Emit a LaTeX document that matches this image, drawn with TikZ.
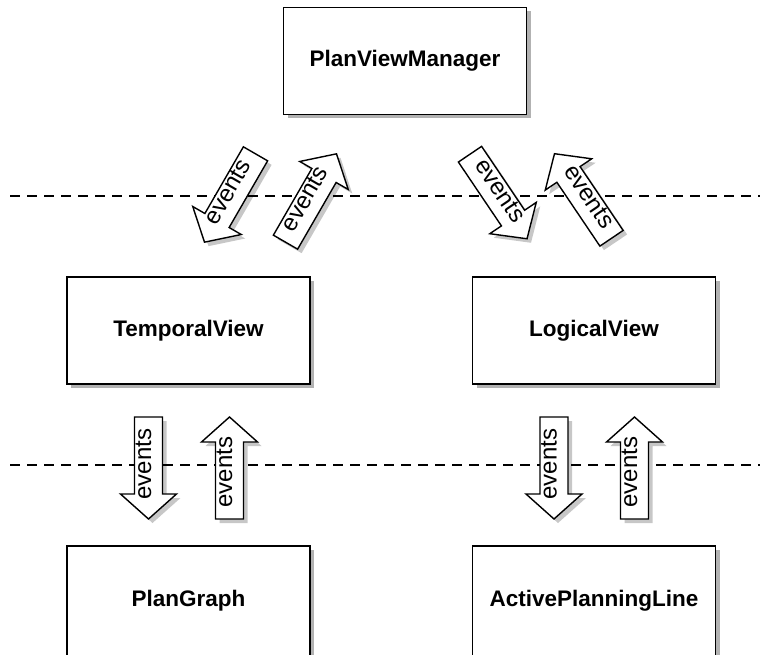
\documentclass[tikz,border=0pt]{standalone}
\usepackage{fontspec}
\setmainfont{Liberation Sans}
\usetikzlibrary{shadows}
\tikzset{
  box/.style={draw=black, line width=1.7pt, fill=white, minimum width=243pt, minimum height=107pt,
    inner sep=0pt, font=\fontsize{22.5}{27}\selectfont\bfseries,
    drop shadow={shadow xshift=4pt, shadow yshift=-4pt, opacity=0.3, fill=black}},
  evtext/.style={font=\fontsize{24}{28}\selectfont, inner sep=0pt, text height=1ex, text depth=0pt, transform shape},
  evshape/.style={draw=black, line width=1.4pt, fill=white, line join=miter},
  evshadow/.style={fill=black, opacity=0.22},
  sepline/.style={dash pattern=on 10pt off 7pt, line width=1.5pt}
}
\newcommand\EvArrow[5]{%
  \begin{scope}[shift={(#2+4,#3-4)}, rotate=#4]
    \fill[evshadow, xscale=#5] (-51,-14) -- (26,-14) -- (26,-28) -- (51,0) -- (26,28) -- (26,14) -- (-51,14) -- cycle;
  \end{scope}
  \begin{scope}[shift={(#2,#3)}, rotate=#4]
    \draw[evshape, xscale=#5] (-51,-14) -- (26,-14) -- (26,-28) -- (51,0) -- (26,28) -- (26,14) -- (-51,14) -- cycle;
    \node[evtext] (#1) at (-4*#5,0) {events};
  \end{scope}}
\begin{document}
\begin{tikzpicture}[x=1pt,y=1pt]
  \useasboundingbox (0,0) rectangle (760,654);
  % separators
  \coordinate (s1a) at (10,458); \coordinate (s1b) at (760,458);
  \coordinate (s2a) at (10,189); \coordinate (s2b) at (760,189);
  \draw[sepline] (s1a) -- (s1b);
  \draw[sepline] (s2a) -- (s2b);
  % boxes
  \node[box] (pvm) at (405,593) {PlanViewManager};
  \node[box] (tv)  at (188.5,323.5) {TemporalView};
  \node[box] (lv)  at (594,323.5) {LogicalView};
  \node[box, minimum height=110pt] (pg)  at (188.5,53) {PlanGraph};
  \node[box, minimum height=110pt] (apl) at (594,53) {ActivePlanningLine};
  % event arrows, upper level
  \EvArrow{e1}{230}{456}{60}{-1}
  \EvArrow{e2}{311}{456}{60}{1}
  \EvArrow{e3}{498.5}{457.5}{-56}{1}
  \EvArrow{e4}{583}{458}{-56}{-1}
  % event arrows, lower level
  \EvArrow{e5}{148.5}{186}{90}{-1}
  \EvArrow{e6}{229.5}{186}{90}{1}
  \EvArrow{e7}{554}{186}{90}{-1}
  \EvArrow{e8}{634.5}{186}{90}{1}
\end{tikzpicture}
\end{document}
